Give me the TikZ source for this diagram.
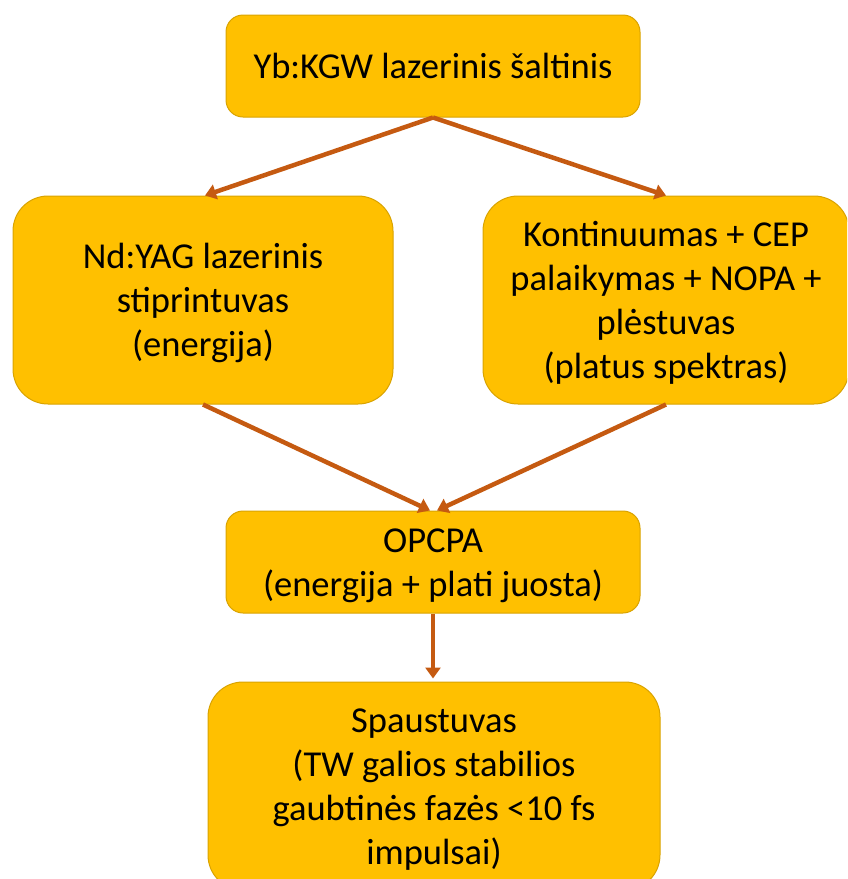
\documentclass[tikz,border=0pt]{standalone}
\usepackage{fontspec}
\setmainfont{Carlito}
\usetikzlibrary{arrows.meta}
\definecolor{boxfill}{HTML}{FFC000}
\definecolor{boxline}{HTML}{D9A300}
\definecolor{arrowc}{HTML}{C55A11}
\newcommand{\btext}[1]{\begin{tabular}{@{}c@{}}\rule{0pt}{39pt}#1\end{tabular}}
\tikzset{
  box/.style={draw=boxline, line width=1pt, fill=boxfill,
    font=\fontsize{36.5}{44}\selectfont, inner sep=0pt},
  smallbox/.style={box, rounded corners=17pt},
  bigbox/.style={box, rounded corners=35pt},
  conn/.style={draw=arrowc, line width=4.5pt, -{Triangle[width=15pt,length=11pt]}}
}
\begin{document}
\begin{tikzpicture}[x=1pt,y=-1pt]
\useasboundingbox (0,0) rectangle (847,879);
\begin{scope}
\clip (0,0) rectangle (847,879);
\node[smallbox, minimum width=414pt, minimum height=102pt] (src) at (433,66) {\btext{Yb:KGW lazerinis šaltinis}};
\node[bigbox, minimum width=380pt, minimum height=208pt] (nd) at (203,300) {\btext{Nd:YAG lazerinis\\stiprintuvas\\(energija)}};
\node[bigbox, minimum width=366pt, minimum height=208pt] (kont) at (666,300) {\btext{Kontinuumas + CEP\\palaikymas + NOPA +\\plėstuvas\\(platus spektras)}};
\node[smallbox, minimum width=414pt, minimum height=102pt] (opcpa) at (433,562) {\btext{OPCPA\\(energija + plati juosta)}};
\node[bigbox, minimum width=452pt, minimum height=208pt] (sp) at (434,786) {\btext{Spaustuvas\\(TW galios stabilios\\gaubtinės fazės <10 fs\\impulsai)}};
\draw[conn] (src.south) -- ([xshift=2pt]nd.north);
\draw[conn] (src.south) -- (kont.north);
\draw[conn] (nd.south) -- ([xshift=-3pt]opcpa.north);
\draw[conn] (kont.south) -- ([xshift=4pt]opcpa.north);
\draw[conn, shorten >=3pt] (opcpa.south) -- (opcpa.south |- sp.north);
\end{scope}
\end{tikzpicture}
\end{document}
